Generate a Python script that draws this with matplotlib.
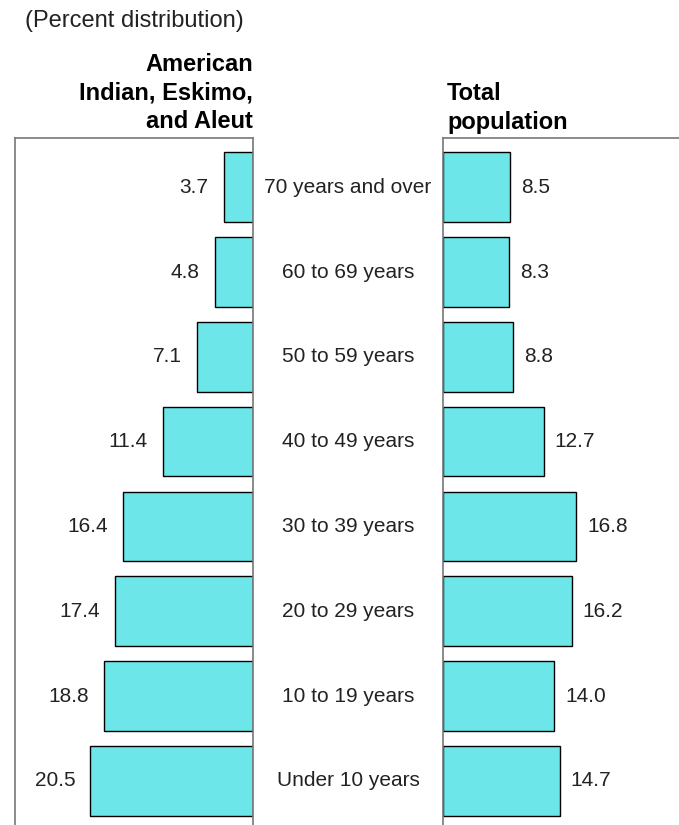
import numpy as np
import matplotlib.pyplot as plt

plt.rcParams['font.family'] = ['Liberation Sans', 'DejaVu Sans']

ages = ["Under 10 years", "10 to 19 years", "20 to 29 years", "30 to 39 years",
        "40 to 49 years", "50 to 59 years", "60 to 69 years", "70 years and over"]
aian = [20.5, 18.8, 17.4, 16.4, 11.4, 7.1, 4.8, 3.7]
total = [14.7, 14.0, 16.2, 16.8, 12.7, 8.8, 8.3, 8.5]

bar_color = '#6ce6e9'
spine_color = '#777777'
W, H = 679, 825

fig = plt.figure(figsize=(W / 100, H / 100), dpi=100)
# axes placed in pixel coords (left, bottom, width, height)
axL = fig.add_axes([15 / W, 0, 238 / W, (H - 138) / H])
axR = fig.add_axes([443 / W, 0, 238 / W, (H - 138) / H])

y = np.arange(len(ages))
ylim = (-0.52, 7.58)

axL.barh(y, aian, height=0.82, color=bar_color, edgecolor='black', linewidth=1)
axL.set_xlim(30, 0)
axL.set_ylim(*ylim)
for yi, v in zip(y, aian):
    axL.text(v + 1.9, yi, f"{v:.1f}", ha='right', va='center', fontsize=15, color='#222222')

axR.barh(y, total, height=0.82, color=bar_color, edgecolor='black', linewidth=1)
axR.set_xlim(0, 30)
axR.set_ylim(*ylim)
for yi, v in zip(y, total):
    axR.text(v + 1.4, yi, f"{v:.1f}", ha='left', va='center', fontsize=15, color='#222222')

for ax in (axL, axR):
    ax.set_xticks([])
    ax.set_yticks([])
    for s in ax.spines.values():
        s.set_color(spine_color)
        s.set_linewidth(1.2)
    ax.spines['bottom'].set_visible(False)
axR.spines['right'].set_visible(False)

# category labels in the gap between panels
for yi, lab in zip(y, ages):
    axL.annotate(lab, xy=(0, yi), xycoords='data', xytext=(95, 0),
                 textcoords='offset pixels', ha='center', va='center',
                 fontsize=15, color='#222222')

fig.text(25 / W, 1 - 21 / H, "(Percent distribution)", fontsize=17,
         ha='left', va='center', color='#222222')
fig.text(253 / W, 1 - 93 / H, "American\nIndian, Eskimo,\nand Aleut", fontsize=17,
         fontweight='bold', ha='right', va='center', linespacing=1.28)
fig.text(447 / W, 1 - 108 / H, "Total\npopulation", fontsize=17,
         fontweight='bold', ha='left', va='center', linespacing=1.28)

fig.savefig('out.png', dpi=100)
